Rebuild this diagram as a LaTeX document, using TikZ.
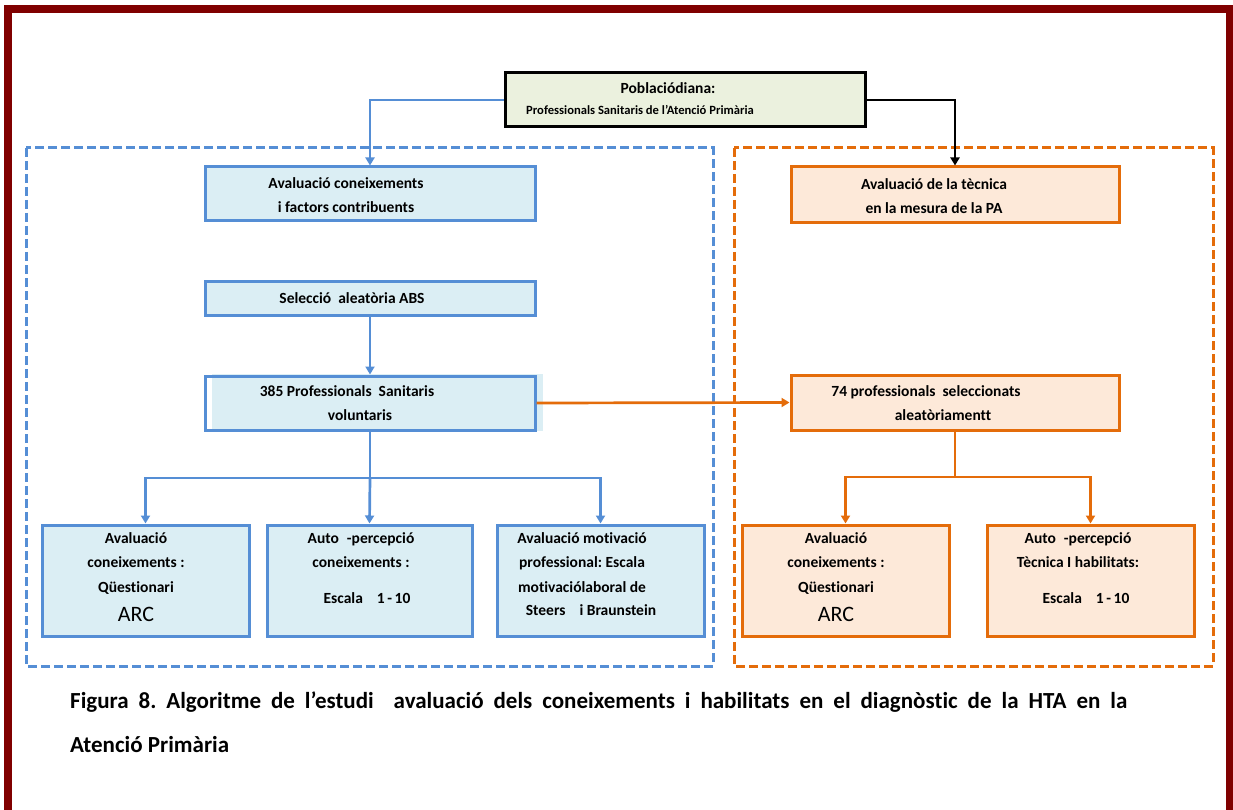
\documentclass[tikz,border=0pt]{standalone}
\usepackage{fontspec}
\setmainfont{Carlito}[Ligatures={TeX,NoCommon}]
\usetikzlibrary{arrows.meta}
\definecolor{framered}{RGB}{128,0,0}
\definecolor{blueline}{RGB}{85,142,213}
\definecolor{bluefill}{RGB}{219,238,244}
\definecolor{orangeline}{RGB}{228,108,10}
\definecolor{orangefill}{RGB}{253,233,217}
\definecolor{greenfill}{RGB}{235,241,222}
\frenchspacing

\tikzset{
  bluebox/.style={draw=blueline, fill=bluefill, line width=3pt, inner sep=0pt},
  orangebox/.style={draw=orangeline, fill=orangefill, line width=3pt, inner sep=0pt},
  boxtext/.style={font=\fontsize{15.5}{24.5}\selectfont\bfseries, align=center, inner sep=0pt},
  blueflow/.style={draw=blueline, line width=2.7pt, -{Triangle[width=9pt,length=8pt]}},
  orangeflow/.style={draw=orangeline, line width=2.7pt, -{Triangle[width=9pt,length=8pt]}},
  groupframe/.style={line width=3pt, dash pattern=on 9pt off 4pt},
}

\begin{document}
\begin{tikzpicture}[x=1pt, y=-1pt]
		\useasboundingbox (0,0) rectangle (1233,810);
		%%%%% frame %%%%%
		\draw[framered, line width=8pt] (8,9) rectangle (1230,814);
		
		\draw[groupframe, blueline] (26,148) rectangle (713,666);
		\draw[groupframe, orangeline] (734,148) rectangle (1213,666);
		
		%%%%% top %%%%%
		\node[draw=black, fill=greenfill, line width=3pt, minimum width=360pt, minimum height=54pt] (pobl) at (685,100) {};
		\node[boxtext] (pobltitle) at (668,88) {Poblaciódiana:};
		\node[font=\fontsize{12.6}{14}\selectfont\bfseries, anchor=west, inner sep=0pt] (poblsub) at (526,110) {Professionals Sanitaris de l’Atenció Primària};
		
		%%%%% left branch %%%%%
		\node[bluebox, minimum width=330pt, minimum height=54pt] (coneix) at (370,194) {};
		\node[boxtext] (coneixtxt) at (346,195) {Avaluació coneixements\\i factors contribuents};
		
		\node[bluebox, minimum width=330pt, minimum height=34pt] (selec) at (370,298) {};
		\node[boxtext] (selectxt) at (352,298) {Selecció\ \ aleatòria ABS};
		
		\fill[bluefill] (212,374) rectangle (543,431);
		\node[bluebox, fill=none, minimum width=330pt, minimum height=54pt] (volunt) at (370,403) {};
		\node[boxtext] (volunttxt) at (347,403) {385 Professionals\ \ Sanitaris\\\hspace*{26pt}voluntaris};
		
		\node[bluebox, minimum width=207pt, minimum height=111pt] (questl) at (145.5,580.5) {};
		\node[boxtext, anchor=north] (questltxt) at (136,532) {Avaluació\\coneixements :\\Qüestionari\\[5pt]{\fontsize{22}{22}\selectfont\mdseries ARC}};
		
		\node[bluebox, minimum width=205pt, minimum height=111pt] (autol) at (369.5,580.5) {};
		\node[boxtext, anchor=north] (autoltxt) at (361,532) {Auto\hspace{8pt}-percepció\\coneixements :\\[11pt]\hspace*{12pt}Escala\hspace{14pt}1\,-\,10};
		
		\node[bluebox, minimum width=207pt, minimum height=111pt] (motiv) at (600.5,580.5) {};
		\node[boxtext, anchor=north] (motivtxt) at (582,532) {Avaluació motivació\\professional: Escala\\motivaciólaboral de\\[-1pt]\hspace*{18pt}Steers\hspace{14pt}i Braunstein};
		
		%%%%% right branch %%%%%
		\node[orangebox, minimum width=328pt, minimum height=56pt] (tecn) at (955,195) {};
		\node[boxtext] (tecntxt) at (934,196) {Avaluació de la tècnica\\en la mesura de la PA};
		
		\node[orangebox, minimum width=328pt, minimum height=55pt] (selec74) at (955,402.5) {};
		\node[boxtext] (selec74txt) at (926,403) {74 professionals\ \ seleccionats\\\hspace*{34pt}aleatòriamentt};
		
		\node[orangebox, minimum width=207pt, minimum height=111pt] (questr) at (845.5,580.5) {};
		\node[boxtext, anchor=north] (questrtxt) at (836,532) {Avaluació\\coneixements :\\Qüestionari\\[5pt]{\fontsize{22}{22}\selectfont\mdseries ARC}};
		
		\node[orangebox, minimum width=207pt, minimum height=111pt] (autor) at (1090.5,580.5) {};
		\node[boxtext, anchor=north] (autortxt) at (1078,532) {Auto\hspace{8pt}-percepció\\Tècnica I habilitats:\\[11pt]\hspace*{16pt}Escala\hspace{14pt}1\,-\,10};
		
		%%%%% connectors %%%%%
		\draw[blueflow] (pobl.west) -| (coneix.north);
		\draw[line width=2.7pt, -{Triangle[width=9pt,length=8pt]}] (pobl.east) -| (tecn.north);
		\draw[blueflow] (selec.south) -- (volunt.north);
		
		\coordinate (splitl) at (370,478);
		\draw[draw=blueline, line width=2.7pt] (volunt.south) -- (splitl);
		\draw[blueflow] (splitl) -| (questl.north);
		\draw[blueflow] (splitl) -- (autol.north);
		\draw[blueflow] (splitl) -| (motiv.north);
		
		\draw[orangeflow] (volunt.east) -- (selec74.west);
		
		\coordinate (splitr) at (955,477);
		\draw[draw=orangeline, line width=2.7pt] (selec74.south) -- (splitr);
		\draw[orangeflow] (splitr) -| (questr.north);
		\draw[orangeflow] (splitr) -| (autor.north);
		
		%%%%% caption %%%%%
		\node[font=\fontsize{23}{23}\selectfont\bfseries, anchor=base west, inner sep=0pt] (capone) at (70,708) {\makebox[1057pt][s]{Figura 8. Algoritme de l’estudi\ \ avaluació dels coneixements i habilitats en el diagnòstic de la HTA en la}};
		\node[font=\fontsize{23}{23}\selectfont\bfseries, anchor=base west, inner sep=0pt] (captwo) at (70,752) {Atenció Primària};
\end{tikzpicture}
\end{document}
